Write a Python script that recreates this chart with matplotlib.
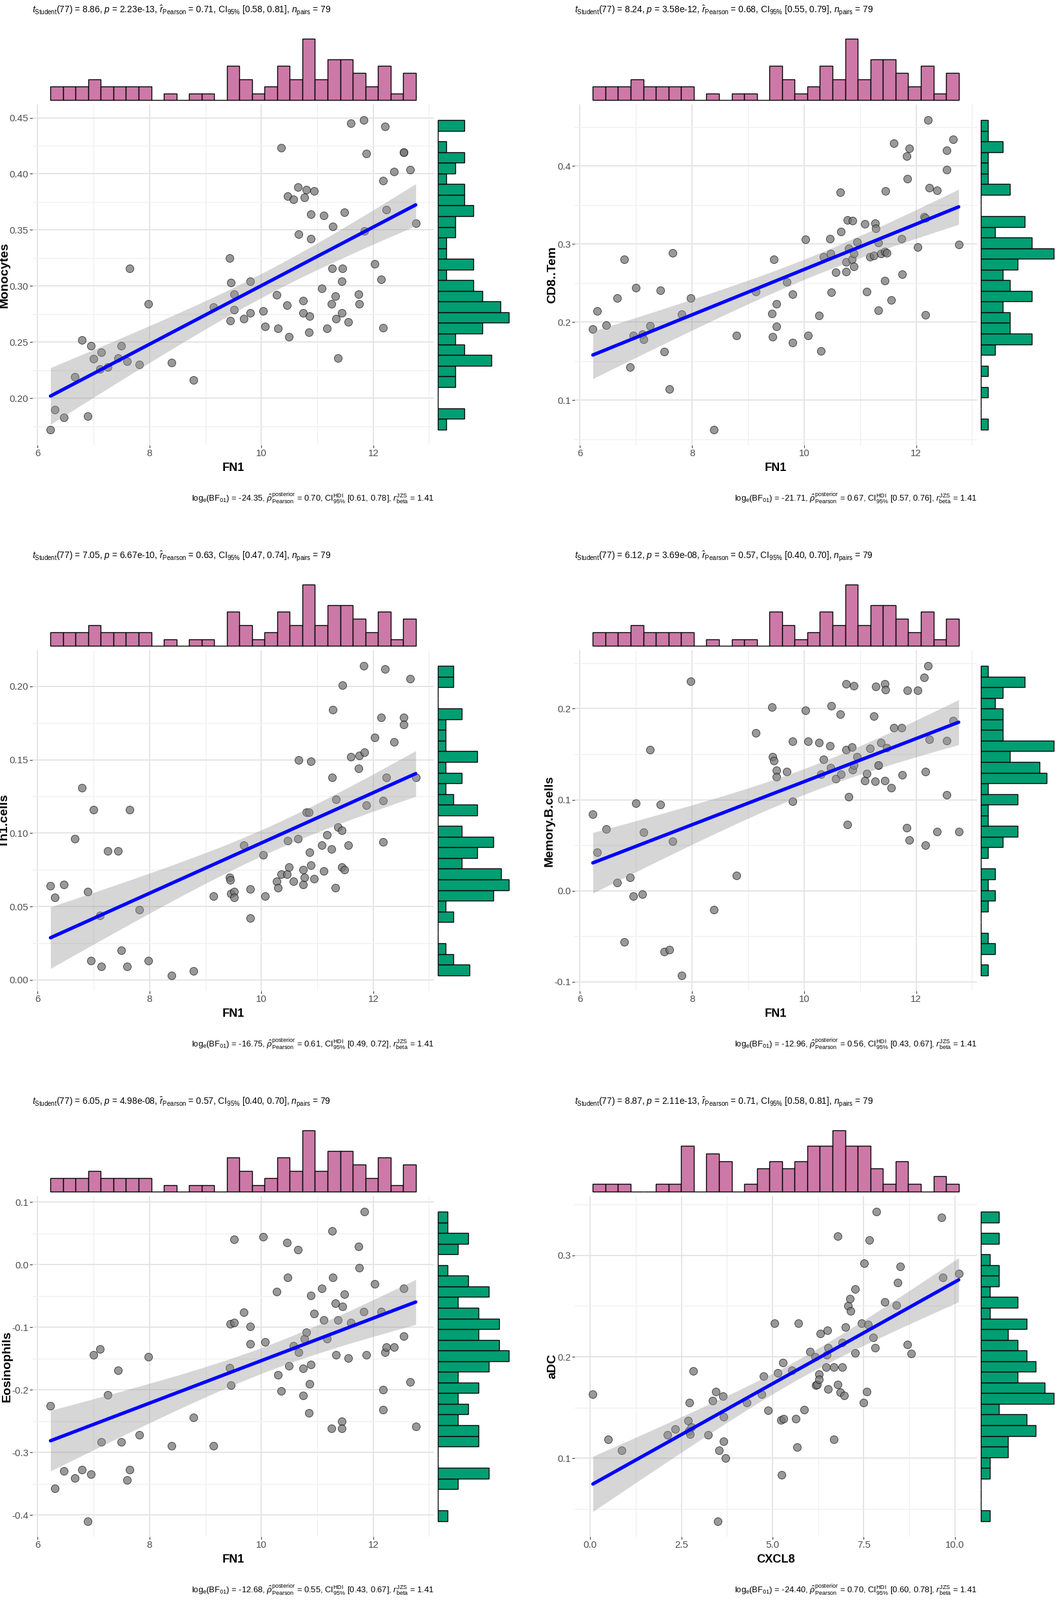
import numpy as np
import matplotlib
matplotlib.use('Agg')
import matplotlib.pyplot as plt
from matplotlib import font_manager
from matplotlib.ticker import FixedLocator

# narrow font like the original (R export), fall back if not there
have = {f.name for f in font_manager.fontManager.ttflist}
narrow = 'Liberation Sans'
for nm in ['Liberation Sans Narrow', 'DejaVu Sans Condensed']:
    if nm in have:
        narrow = nm
        break
fs = {'Liberation Sans Narrow': 1.0, 'DejaVu Sans Condensed': 0.88, 'Liberation Sans': 0.84}[narrow]

plt.rcParams['font.family'] = [narrow, 'DejaVu Sans']
plt.rcParams['mathtext.fontset'] = 'custom'
plt.rcParams['mathtext.rm'] = narrow
plt.rcParams['mathtext.it'] = narrow + ':italic'
plt.rcParams['mathtext.bf'] = narrow + ':bold'

# ---- data ----
fn1 = [6.23, 6.31, 6.47, 6.66, 6.79, 6.89, 6.95, 7.00, 7.11, 7.14, 7.25, 7.44, 7.50, 7.60, 7.65,
       7.82, 7.98, 8.39, 8.79, 9.14, 9.43, 9.44, 9.46, 9.51, 9.51, 9.69, 9.80, 9.80, 10.03, 10.07,
       10.27, 10.30, 10.35, 10.46, 10.47, 10.49, 10.57, 10.66, 10.65, 10.75, 10.75, 10.77, 10.80,
       10.85, 10.86, 10.89, 10.89, 10.94, 11.08, 11.12, 11.17, 11.25, 11.27, 11.28, 11.32, 11.33,
       11.37, 11.44, 11.44, 11.45, 11.48, 11.55, 11.60, 11.74, 11.75, 11.83, 11.84, 11.88, 12.03,
       12.14, 12.17, 12.17, 12.21, 12.23, 12.37, 12.55, 12.55, 12.66, 12.76]

monocytes = [0.172, 0.190, 0.183, 0.219, 0.252, 0.184, 0.247, 0.235, 0.226, 0.241, 0.228, 0.236,
             0.247, 0.233, 0.316, 0.230, 0.284, 0.232, 0.216, 0.281, 0.325, 0.269, 0.303, 0.293,
             0.279, 0.271, 0.304, 0.276, 0.278, 0.264, 0.292, 0.262, 0.423, 0.283, 0.380, 0.255,
             0.377, 0.346, 0.388, 0.287, 0.276, 0.379, 0.386, 0.259, 0.273, 0.364, 0.342, 0.385,
             0.298, 0.363, 0.262, 0.284, 0.316, 0.353, 0.291, 0.271, 0.236, 0.276, 0.304, 0.316,
             0.366, 0.268, 0.445, 0.293, 0.284, 0.448, 0.349, 0.418, 0.320, 0.306, 0.394, 0.263,
             0.442, 0.368, 0.402, 0.419, 0.419, 0.404, 0.356]

cd8_tem = [0.191, 0.214, 0.196, 0.231, 0.280, 0.142, 0.183, 0.244, 0.184, 0.178, 0.195, 0.241,
           0.162, 0.114, 0.289, 0.210, 0.231, 0.062, 0.183, 0.239, 0.211, 0.181, 0.280, 0.194,
           0.223, 0.251, 0.236, 0.174, 0.306, 0.183, 0.208, 0.163, 0.284, 0.307, 0.288, 0.238,
           0.264, 0.316, 0.366, 0.265, 0.277, 0.331, 0.294, 0.280, 0.330, 0.271, 0.288, 0.303,
           0.326, 0.239, 0.284, 0.285, 0.327, 0.320, 0.302, 0.215, 0.288, 0.290, 0.253, 0.368,
           0.289, 0.228, 0.429, 0.307, 0.261, 0.413, 0.384, 0.423, 0.296, 0.335, 0.209, 0.333,
           0.459, 0.372, 0.369, 0.420, 0.395, 0.434, 0.299]

th1_cells = [0.064, 0.056, 0.065, 0.096, 0.131, 0.060, 0.013, 0.116, 0.044, 0.009, 0.088, 0.088,
             0.020, 0.009, 0.116, 0.048, 0.013, 0.003, 0.006, 0.057, 0.070, 0.068, 0.059, 0.060,
             0.056, 0.092, 0.062, 0.042, 0.085, 0.057, 0.067, 0.063, 0.072, 0.072, 0.095, 0.077,
             0.067, 0.150, 0.096, 0.075, 0.065, 0.070, 0.114, 0.114, 0.087, 0.149, 0.078, 0.069,
             0.092, 0.074, 0.099, 0.089, 0.138, 0.184, 0.063, 0.123, 0.104, 0.102, 0.077, 0.201,
             0.075, 0.092, 0.152, 0.144, 0.153, 0.214, 0.155, 0.119, 0.165, 0.179, 0.122, 0.094,
             0.212, 0.138, 0.162, 0.179, 0.174, 0.205, 0.138]

memory_b_cells = [0.084, 0.042, 0.068, 0.009, -0.056, 0.015, -0.006, 0.096, -0.004, 0.064, 0.155,
                  0.095, -0.067, -0.065, 0.054, -0.093, 0.230, -0.021, 0.017, 0.173, 0.202, 0.147,
                  0.143, 0.132, 0.125, 0.131, 0.164, 0.098, 0.198, 0.164, 0.163, 0.128, 0.144,
                  0.159, 0.135, 0.203, 0.123, 0.128, 0.194, 0.227, 0.155, 0.073, 0.103, 0.158,
                  0.133, 0.225, 0.138, 0.147, 0.121, 0.129, 0.156, 0.192, 0.120, 0.224, 0.138,
                  0.138, 0.163, 0.227, 0.121, 0.221, 0.157, 0.113, 0.179, 0.179, 0.127, 0.069,
                  0.220, 0.056, 0.220, 0.234, 0.131, 0.050, 0.247, 0.166, 0.065, 0.105, 0.165,
                  0.187, 0.065]

eosinophils = [-0.225, -0.357, -0.330, -0.341, -0.327, -0.410, -0.335, -0.144, -0.135, -0.283,
               -0.208, -0.169, -0.283, -0.344, -0.327, -0.272, -0.147, -0.289, -0.244, -0.289,
               -0.165, -0.094, -0.192, -0.092, 0.041, -0.076, -0.099, -0.126, 0.045, -0.123,
               -0.043, -0.176, -0.202, 0.036, -0.020, -0.161, -0.129, -0.140, 0.024, -0.209,
               -0.166, -0.118, -0.108, -0.237, -0.190, -0.049, -0.159, -0.078, -0.038, -0.088,
               -0.118, -0.261, 0.054, -0.020, -0.061, -0.144, -0.088, -0.250, -0.261, -0.067,
               -0.047, -0.149, -0.092, 0.029, -0.005, -0.075, 0.085, -0.144, -0.031, -0.075,
               -0.200, -0.232, -0.140, -0.132, -0.132, -0.038, -0.114, -0.187, -0.258]

cxcl8 = [0.074, 0.488, 0.866, 2.120, 2.323, 2.682, 2.700, 2.719, 2.728, 2.765, 2.829, 3.235, 3.364,
         3.438, 3.502, 3.525, 3.641, 3.650, 3.659, 3.705, 4.286, 4.700, 4.747, 4.876, 5.060, 5.134,
         5.226, 5.253, 5.281, 5.300, 5.521, 5.631, 5.677, 5.714, 5.871, 6.018, 6.157, 6.184, 6.221,
         6.276, 6.276, 6.313, 6.461, 6.479, 6.498, 6.525, 6.525, 6.673, 6.682, 6.793, 6.793, 6.848,
         6.912, 6.912, 6.959, 7.005, 7.069, 7.124, 7.143, 7.253, 7.253, 7.447, 7.493, 7.512, 7.585,
         7.622, 7.659, 7.760, 7.806, 7.843, 8.083, 8.396, 8.433, 8.498, 8.700, 8.802, 9.622, 9.668,
         10.101]

adc = [0.163, 0.119, 0.108, 0.123, 0.129, 0.137, 0.127, 0.155, 0.124, 0.131, 0.186, 0.123, 0.157,
       0.166, 0.038, 0.108, 0.161, 0.141, 0.117, 0.100, 0.155, 0.163, 0.181, 0.147, 0.233, 0.184,
       0.138, 0.084, 0.194, 0.139, 0.187, 0.139, 0.111, 0.233, 0.148, 0.205, 0.200, 0.172, 0.173,
       0.183, 0.178, 0.223, 0.190, 0.202, 0.226, 0.168, 0.209, 0.190, 0.119, 0.319, 0.173, 0.165,
       0.190, 0.214, 0.162, 0.229, 0.250, 0.257, 0.245, 0.204, 0.267, 0.233, 0.155, 0.292, 0.166,
       0.232, 0.315, 0.219, 0.209, 0.343, 0.254, 0.251, 0.273, 0.289, 0.212, 0.203, 0.337, 0.278,
       0.282]

xs = [fn1, fn1, fn1, fn1, fn1, cxcl8]
ys = [monocytes, cd8_tem, th1_cells, memory_b_cells, eosinophils, adc]
y_names = ['Monocytes', 'CD8..Tem', 'Th1.cells', 'Memory.B.cells', 'Eosinophils', 'aDC']
x_names = ['FN1', 'FN1', 'FN1', 'FN1', 'FN1', 'CXCL8']

t_stat = ['8.86', '8.24', '7.05', '6.12', '6.05', '8.87']
p_val = ['2.23e-13', '3.58e-12', '6.67e-10', '3.69e-08', '4.98e-08', '2.11e-13']
r_val = ['0.71', '0.68', '0.63', '0.57', '0.57', '0.71']
ci_freq = ['[0.58, 0.81]', '[0.55, 0.79]', '[0.47, 0.74]', '[0.40, 0.70]', '[0.40, 0.70]', '[0.58, 0.81]']
log_bf = ['-24.35', '-21.71', '-16.75', '-12.96', '-12.68', '-24.40']
rho_post = ['0.70', '0.67', '0.61', '0.56', '0.55', '0.70']
ci_hdi = ['[0.61, 0.78]', '[0.57, 0.76]', '[0.49, 0.72]', '[0.43, 0.67]', '[0.43, 0.67]', '[0.60, 0.78]']

y_ticks = [[0.20, 0.25, 0.30, 0.35, 0.40, 0.45], [0.1, 0.2, 0.3, 0.4], [0.00, 0.05, 0.10, 0.15, 0.20],
           [-0.1, 0.0, 0.1, 0.2], [-0.4, -0.3, -0.2, -0.1, 0.0, 0.1], [0.1, 0.2, 0.3]]
y_fmt = ['%.2f', '%.1f', '%.2f', '%.1f', '%.1f', '%.1f']
fn1_ticks = [6, 8, 10, 12]
cxcl8_ticks = [0.0, 2.5, 5.0, 7.5, 10.0]

# ---- figure ----
W, H = 1636, 2480
fig = plt.figure(figsize=(W / 100, H / 100), dpi=100)


def box(x0, y0, x1, y1):
    # pixel box (from top-left) -> figure fraction
    return [x0 / W, 1 - y1 / H, (x1 - x0) / W, (y1 - y0) / H]


cols = [(50, 673, 795), (891, 1515, 1640)]
tick_col = '#4D4D4D'

for i in range(6):
    c, r = i % 2, i // 2
    x0, x1, x2 = cols[c]
    dy = 846 * r
    x = np.array(xs[i])
    y = np.array(ys[i])
    xr = x.max() - x.min()
    yr = y.max() - y.min()
    xlo, xhi = x.min() - 0.05 * xr, x.max() + 0.05 * xr
    ylo, yhi = y.min() - 0.05 * yr, y.max() + 0.05 * yr

    ax = fig.add_axes(box(x0, 162 + dy, x1, 690 + dy))
    ax.set_axisbelow(True)
    ax.scatter(x, y, s=76, facecolor='#777777', edgecolor='black', linewidths=0.6, alpha=0.75, zorder=2)

    # linear fit with 95% band
    n = len(x)
    b, a = np.polyfit(x, y, 1)
    xx = np.linspace(x.min(), x.max(), 80)
    fit = a + b * xx
    s = np.sqrt(np.sum((y - (a + b * x)) ** 2) / (n - 2))
    se = s * np.sqrt(1 / n + (xx - x.mean()) ** 2 / np.sum((x - x.mean()) ** 2))
    ax.fill_between(xx, fit - 1.991 * se, fit + 1.991 * se, color='#999999', alpha=0.4, lw=0, zorder=3)
    ax.plot(xx, fit, color='#0000FF', lw=3.8, zorder=4, solid_capstyle='round')

    ax.set_xlim(xlo, xhi)
    ax.set_ylim(ylo, yhi)
    xt = cxcl8_ticks if x_names[i] == 'CXCL8' else fn1_ticks
    ax.set_xticks(xt)
    ax.set_xticklabels(['%.1f' % v if x_names[i] == 'CXCL8' else '%d' % v for v in xt])
    ax.set_yticks(y_ticks[i])
    ax.set_yticklabels([y_fmt[i] % v for v in y_ticks[i]])
    xstep = xt[1] - xt[0]
    ystep = y_ticks[i][1] - y_ticks[i][0]
    ax.xaxis.set_minor_locator(FixedLocator(np.arange(xt[0] - xstep / 2, xhi, xstep)))
    ax.yaxis.set_minor_locator(FixedLocator(np.arange(y_ticks[i][0] - ystep * 3.5, yhi, ystep)))
    ax.grid(True, which='major', color='#E3E3E3', lw=1.3)
    ax.grid(True, which='minor', color='#EFEFEF', lw=0.9)
    ax.tick_params(which='major', length=3, width=0.8, color='#333333', labelcolor=tick_col,
                   labelsize=13 * fs, pad=1.2)
    ax.tick_params(which='minor', length=0)
    for sp in ax.spines.values():
        sp.set_visible(False)
    ax.set_xlabel(x_names[i], fontsize=15.5 * fs, fontweight='bold', labelpad=5)
    ax.set_ylabel(y_names[i], fontsize=14, fontweight='bold', family='Liberation Sans', labelpad=-1)

    # marginal histograms
    axt = fig.add_axes(box(x0, 55 + dy, x1, 160 + dy))
    cnt, _, _ = axt.hist(x, bins=np.linspace(x.min(), x.max(), 30), color='#CC79A7',
                         edgecolor='black', linewidth=1.0)
    axt.set_xlim(xlo, xhi)
    axt.set_ylim(-0.05 * cnt.max(), 1.05 * cnt.max())
    axt.axis('off')

    axr = fig.add_axes(box(x1, 162 + dy, x2, 690 + dy))
    cnt, _, _ = axr.hist(y, bins=np.linspace(y.min(), y.max(), 30), orientation='horizontal',
                         color='#009E73', edgecolor='black', linewidth=1.0)
    axr.set_ylim(ylo, yhi)
    axr.set_xlim(-0.05 * cnt.max(), 1.05 * cnt.max())
    axr.axis('off')

    title = ('$t_{\\mathrm{Student}}$(77) = ' + t_stat[i] + ', $p$ = ' + p_val[i]
             + ', $\\hat{r}_{\\mathrm{Pearson}}$ = ' + r_val[i] + ', CI$_{95\\%}$ ' + ci_freq[i]
             + ', $n_{\\mathrm{pairs}}$ = 79')
    fig.text(x0 / W, 1 - (16 + dy) / H, title, ha='left', va='center', fontsize=11.8 * fs)
    sub = ('log$_{\\mathrm{e}}$(BF$_{01}$) = ' + log_bf[i]
           + ', $\\hat{\\rho}_{\\mathrm{Pearson}}^{\\mathrm{posterior}}$ = ' + rho_post[i]
           + ', CI$_{95\\%}^{\\mathrm{HDI}}$ ' + ci_hdi[i] + ', $r_{\\mathrm{beta}}^{\\mathrm{JZS}}$ = 1.41')
    fig.text(x1 / W, 1 - (772 + dy) / H, sub, ha='right', va='center', fontsize=11 * fs)

fig.savefig('out.png', dpi=100, facecolor='white')
